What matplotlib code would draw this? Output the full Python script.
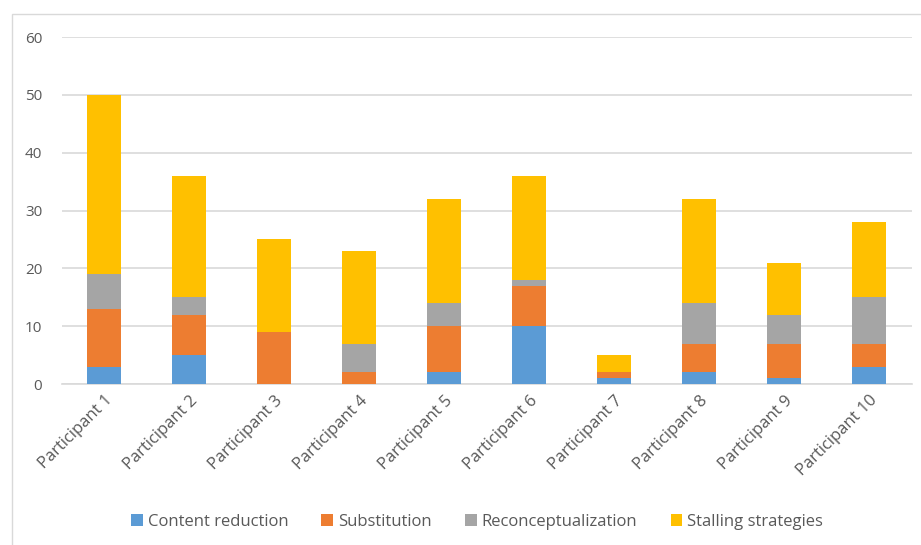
import matplotlib.pyplot as plt
from matplotlib.patches import Rectangle
import numpy as np

# data
participants = ['Participant %d' % i for i in range(1, 11)]
content_reduction = [3, 5, 0, 0, 2, 10, 1, 2, 1, 3]
substitution = [10, 7, 9, 2, 8, 7, 1, 5, 6, 4]
reconceptualization = [6, 3, 0, 5, 4, 1, 0, 7, 5, 8]
stalling = [31, 21, 16, 16, 18, 18, 3, 18, 9, 13]

series = [
    ('Content reduction', content_reduction, '#5B9BD5'),
    ('Substitution', substitution, '#ED7D31'),
    ('Reconceptualization', reconceptualization, '#A5A5A5'),
    ('Stalling strategies', stalling, '#FFC000'),
]

plt.rcParams['font.family'] = ['Open Sans', 'DejaVu Sans']

fig = plt.figure(figsize=(9.21, 5.45), dpi=100)
ax = fig.add_axes([0.067, 0.2954, 0.923, 0.6367])

# outer chart frame
fig.patches.append(Rectangle((12 / 921, -0.05), 1.0, 1 - 14 / 545 + 0.05,
                             transform=fig.transFigure, fill=False,
                             edgecolor='#d9d9d9', linewidth=1.0, zorder=0))

x = np.arange(len(participants))
bottom = np.zeros(len(participants))
for name, vals, col in series:
    ax.bar(x, vals, width=0.4, bottom=bottom, color=col, label=name, zorder=3)
    bottom += np.array(vals)

ax.set_ylim(0, 60)
ax.set_xlim(-0.5, len(participants) - 0.5)
ax.set_yticks(range(0, 61, 10))
ax.yaxis.grid(True, color='#d9d9d9', linewidth=1.2, zorder=0)
ax.set_axisbelow(True)
for s in ['top', 'right', 'left']:
    ax.spines[s].set_visible(False)
ax.spines['bottom'].set_color('#d9d9d9')
ax.spines['bottom'].set_linewidth(1.2)
ax.tick_params(axis='both', length=0, colors='#595959', labelsize=11)
ax.tick_params(axis='y', pad=14)
ax.tick_params(axis='x', labelsize=12, pad=6)
ax.set_xticks(x)
ax.set_xticklabels(participants, rotation=45, ha='right', rotation_mode='anchor')

fig.legend(loc='center', bbox_to_anchor=(0.518, 0.042), ncol=4, frameon=False,
           handlelength=0.7, handleheight=0.7, handletextpad=0.3, columnspacing=2.0,
           fontsize=12, labelcolor='#595959')

fig.savefig('out.png', dpi=100)
